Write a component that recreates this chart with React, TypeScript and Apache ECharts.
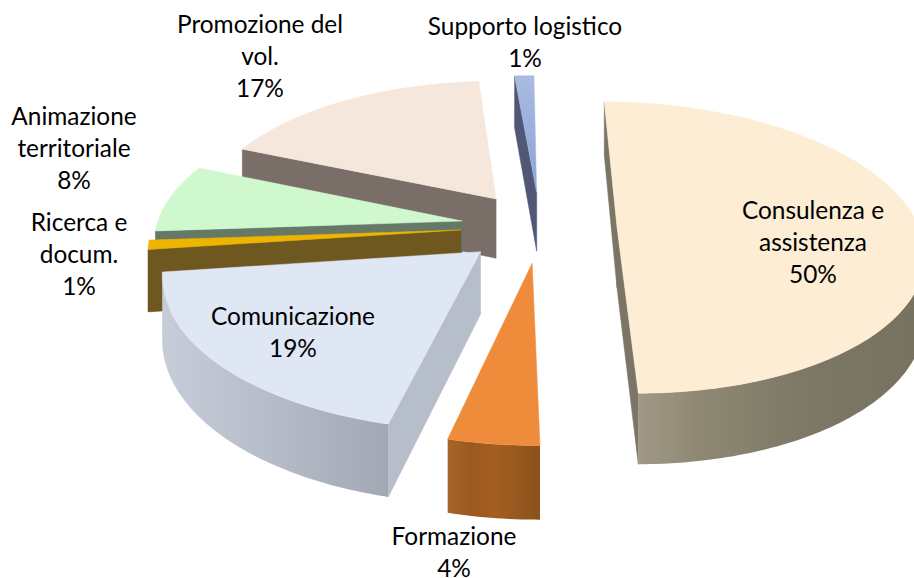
import React, { useEffect, useRef } from "react";
import * as echarts from "echarts";

const categories = [
  "Consulenza e\nassistenza",
  "Formazione",
  "Comunicazione",
  "Ricerca e\ndocum.",
  "Animazione\nterritoriale",
  "Promozione del\nvol.",
  "Supporto logistico",
];
const shares = [49.8, 4.0, 19.0, 1.0, 7.5, 17.49, 1.21];
const startAngle = 0.4;
const topColors = [
  ["#FCEDD4", "#FCEDD4"],
  ["#EE8C3C", "#EE8C3C"],
  ["#DFE6F4", "#DFE6F4"],
  ["#EEB500", "#EEB500"],
  ["#CFF8CF", "#CFF8CF"],
  ["#F6E7DC", "#F6E7DC"],
  ["#AABBE0", "#8CA3DA"],
];
const faceColors = ["#7A7565", "#8E5320", "#B6BDCB", "#6F5720", "#667866", "#7A6E68", "#505777"];
const wallStops = [
  ["#A09987", "#8F8974", "#85806C", "#7D7866", "#7A7563", "#77725F"],
  ["#A8652A", "#99591F", "#A65D20", "#97591F", "#8C501B"],
  ["#C6CCD8", "#BEC4D0", "#B5BBC7", "#ABB1BD", "#A2A8B4"],
  ["#6F5720", "#6F5720"],
  ["#667866", "#667866"],
  ["#7A6E68", "#7A6E68"],
  ["#505777", "#505777"],
];
// pie-plane offset of each exploded slice (x to the right, y toward the viewer)
const explode = [
  [118, 0],
  [32, 74],
  [-18, 51],
  [-38, 6.3],
  [-37, -12.6],
  [-3, -61],
  [39, -76],
];
const sliceRadius = [302, 306, 307, 308, 306, 299, 300];
const labelAnchors = [
  [813, 241],
  [454, 551],
  [293, 331],
  [79, 253],
  [74, 147],
  [260, 55],
  [525, 41],
];
const drawOrder = [6, 5, 4, 3, 0, 2, 1];

const CX = 499;
const CY = 227;
const TILT = 0.473;
const PERSPECTIVE = 0.14 / 300;
const DEPTH = 61;

type P = [number, number];
const project = (x: number, y: number, h: number): P => {
  const f = 1 / (1 - PERSPECTIVE * y);
  return [CX + x * f, CY + y * TILT * f + h * f];
};

const area = (pts: P[]) => {
  let s = 0;
  pts.forEach((p, i) => {
    const q = pts[(i + 1) % pts.length];
    s += p[0] * q[1] - q[0] * p[1];
  });
  return s;
};

const total = shares.reduce((a, b) => a + b, 0);

const renderSlice = (_params: any, api: any) => {
  const idx = api.value(0) as number;
  const before = shares.slice(0, idx).reduce((a, b) => a + b, 0);
  const a0 = startAngle + (before / total) * 360;
  const a1 = a0 + (api.value(1) / total) * 360;
  const [ox, oy] = explode[idx];
  const radius = sliceRadius[idx];
  const plane: P[] = [];
  const steps = Math.max(4, Math.ceil(a1 - a0));
  for (let k = 0; k <= steps; k++) {
    const t = ((a0 + ((a1 - a0) * k) / steps) * Math.PI) / 180;
    plane.push([ox + radius * Math.sin(t), oy - radius * Math.cos(t)]);
  }
  const top = (p: P) => project(p[0], p[1], 0);
  const low = (p: P) => project(p[0], p[1], DEPTH);
  const apex: P = [ox, oy];
  const visible = (u: P, v: P) => area([top(u), top(v), low(v), low(u)]) < 0;

  const children: any[] = [];
  const face = (u: P, v: P) => {
    if (!visible(u, v)) return;
    children.push({
      type: "polygon",
      shape: { points: [top(u), top(v), low(v), low(u)] },
      style: { fill: faceColors[idx], stroke: faceColors[idx], lineWidth: 0.5 },
    });
  };
  face(apex, plane[0]);
  face(plane[plane.length - 1], apex);

  const shown: P[] = [];
  for (let k = 0; k < plane.length - 1; k++) {
    if (visible(plane[k], plane[k + 1])) {
      if (!shown.length) shown.push(plane[k]);
      shown.push(plane[k + 1]);
    }
  }
  if (shown.length > 1) {
    const stops = wallStops[idx];
    children.push({
      type: "polygon",
      shape: { points: [...shown.map(top), ...shown.slice().reverse().map(low)] },
      style: {
        fill: new echarts.graphic.LinearGradient(
          0,
          0,
          1,
          0,
          stops.map((color, i) => ({ offset: i / (stops.length - 1), color }))
        ),
      },
    });
  }
  children.push({
    type: "polygon",
    shape: { points: [top(apex), ...plane.map(top)] },
    style: {
      fill: new echarts.graphic.LinearGradient(0, 0, 0, 1, [
        { offset: 0, color: topColors[idx][0] },
        { offset: 1, color: topColors[idx][1] },
      ]),
      stroke: topColors[idx][0],
      lineWidth: 0.5,
    },
  });
  return { type: "group", children };
};

export default function App() {
  const ref = useRef<HTMLDivElement>(null);
  useEffect(() => {
    document.body.style.margin = "0";
    const chart = echarts.init(ref.current!, null, { renderer: "svg" });
    chart.setOption({
      animation: false,
      backgroundColor: "#FFFFFF",
      series: [
        {
          type: "custom",
          coordinateSystem: "none",
          silent: true,
          renderItem: renderSlice,
          data: drawOrder.map((i) => [i, shares[i]]),
        },
      ],
      graphic: categories.map((name, i) => ({
        type: "text",
        x: labelAnchors[i][0],
        y: labelAnchors[i][1],
        z: 100,
        style: {
          text: `${name}\n${Math.round(shares[i])}%`,
          fill: "#000000",
          font: '24.4px Lato, "Open Sans", sans-serif',
          lineHeight: 32,
          align: "center",
          verticalAlign: "middle",
        },
      })),
    });
    return () => chart.dispose();
  }, []);
  return <div ref={ref} style={{ width: 914, height: 578 }} />;
}
